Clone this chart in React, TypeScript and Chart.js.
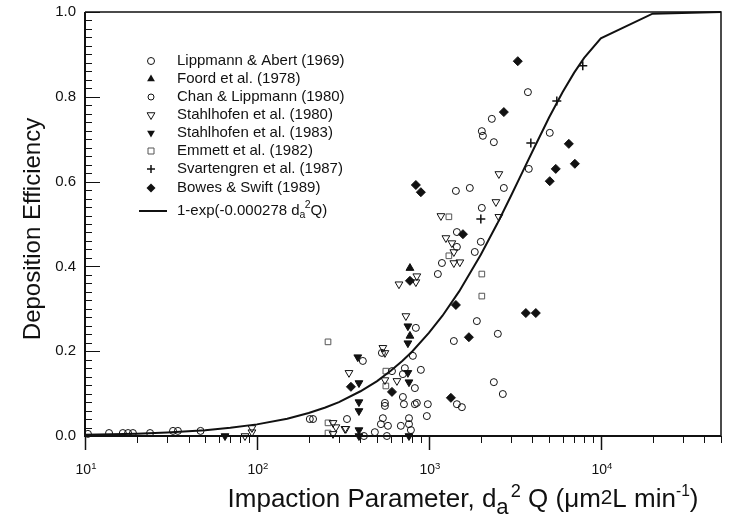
import React, { useEffect, useRef } from 'react';
import { Chart, registerables } from 'chart.js';
Chart.register(...registerables);

// ---- Data (impaction parameter, deposition efficiency) ----
const lippmannAbertX = [413, 533, 807, 3767, 2323, 2032, 2061, 2387, 5047, 3811, 1436, 1730, 2729, 2032, 1455, 1455, 2005, 1849, 1191, 1128, 840, 1901, 2518, 1397, 2387, 2692, 898, 610, 725, 706, 829, 706, 555, 555, 716, 829, 851, 986, 973, 1455, 1556, 540, 526, 578, 687, 766, 766, 786, 419, 485, 570];
const lippmannAbertY = [0.177, 0.196, 0.189, 0.811, 0.748, 0.719, 0.708, 0.693, 0.715, 0.630, 0.578, 0.585, 0.585, 0.538, 0.481, 0.446, 0.458, 0.434, 0.408, 0.382, 0.255, 0.271, 0.241, 0.224, 0.127, 0.099, 0.156, 0.153, 0.160, 0.146, 0.113, 0.092, 0.078, 0.071, 0.075, 0.075, 0.078, 0.075, 0.047, 0.075, 0.068, 0.042, 0.028, 0.024, 0.024, 0.042, 0.028, 0.014, 0.0, 0.009, 0.0];

const foordX = [776, 776];
const foordY = [0.396, 0.236];

const chanLippmannX = [10.4, 13.8, 16.6, 17.8, 19.0, 23.9, 32.5, 34.7, 47, 203, 212, 334];
const chanLippmannY = [0.005, 0.007, 0.007, 0.007, 0.007, 0.007, 0.012, 0.012, 0.012, 0.040, 0.040, 0.040];

const stahl1980X = [93.5, 93.5, 85.2, 277, 288, 329, 277, 343, 325, 540, 555, 555, 652, 735, 670, 851, 840, 1175, 1256, 1361, 1397, 1397, 1514, 2553, 2454, 2553];
const stahl1980Y = [0.019, 0.009, 0.0, 0.031, 0.021, 0.017, 0.005, 0.149, 0.017, 0.208, 0.196, 0.132, 0.130, 0.283, 0.358, 0.377, 0.363, 0.519, 0.467, 0.455, 0.434, 0.408, 0.410, 0.618, 0.552, 0.517];

const stahl1983X = [65.2, 386, 392, 392, 392, 392, 392, 755, 755, 755, 766, 766];
const stahl1983Y = [0.0, 0.186, 0.125, 0.080, 0.059, 0.014, 0.0, 0.219, 0.259, 0.149, 0.127, 0.0];

const emmettX = [259, 259, 259, 562, 562, 1307, 1307, 2032, 2032];
const emmettY = [0.222, 0.031, 0.007, 0.153, 0.118, 0.517, 0.425, 0.382, 0.330];

const svartengrenX = [7852, 5546, 3917, 2005];
const svartengrenY = [0.873, 0.790, 0.691, 0.512];

const bowesSwiftX = [3289, 2729, 6516, 7063, 5470, 5047, 840, 898, 1578, 776, 1436, 1709, 3664, 4188, 1343, 352, 610];
const bowesSwiftY = [0.884, 0.764, 0.689, 0.642, 0.630, 0.601, 0.592, 0.575, 0.476, 0.366, 0.309, 0.233, 0.290, 0.290, 0.090, 0.116, 0.104];

const curveX = [10, 20, 30, 50, 70, 100, 150, 200, 250, 300, 400, 500, 600, 700, 800, 1000, 1200, 1500, 2000, 2500, 3000, 3500, 4000, 5000, 6000, 7000, 8000, 10000, 20000, 50000];
const curveY = [0.0028, 0.0055, 0.0083, 0.0138, 0.0193, 0.0274, 0.0409, 0.0541, 0.0671, 0.080, 0.1055, 0.1295, 0.154, 0.177, 0.1994, 0.243, 0.2837, 0.341, 0.427, 0.501, 0.566, 0.6222, 0.671, 0.751, 0.8114, 0.857, 0.8918, 0.938, 0.996, 1.0];

const xTickExponents = [1, 2, 3, 4];
const yTickLabels = ['0.0', '0.2', '0.4', '0.6', '0.8', '1.0'];

const FONT = '"Liberation Sans", Arial, sans-serif';
const INK = '#111';

const pts = (xs: number[], ys: number[]) => xs.map((x, i) => ({ x, y: ys[i] }));

type Kind = 'circle' | 'circleSmall' | 'triUpFill' | 'triDownOpen' | 'triDownFill' | 'square' | 'plus' | 'diamond' | 'line';

const legendEntries: { label: string; kind: Kind }[] = [
  { label: 'Lippmann & Abert (1969)', kind: 'circle' },
  { label: 'Foord et al. (1978)', kind: 'triUpFill' },
  { label: 'Chan & Lippmann (1980)', kind: 'circleSmall' },
  { label: 'Stahlhofen et al. (1980)', kind: 'triDownOpen' },
  { label: 'Stahlhofen et al. (1983)', kind: 'triDownFill' },
  { label: 'Emmett et al. (1982)', kind: 'square' },
  { label: 'Svartengren et al. (1987)', kind: 'plus' },
  { label: 'Bowes & Swift (1989)', kind: 'diamond' },
  { label: '', kind: 'line' },
];

function drawMarker(ctx: CanvasRenderingContext2D, kind: Kind, x: number, y: number) {
  ctx.save();
  ctx.strokeStyle = INK;
  ctx.fillStyle = INK;
  ctx.lineWidth = 1;
  ctx.beginPath();
  switch (kind) {
    case 'circle':
      ctx.arc(x, y, 3.5, 0, Math.PI * 2);
      ctx.stroke();
      break;
    case 'circleSmall':
      ctx.arc(x, y, 3, 0, Math.PI * 2);
      ctx.stroke();
      break;
    case 'triUpFill': {
      const r = 4.5;
      ctx.moveTo(x, y - r);
      ctx.lineTo(x + r * 0.866, y + r / 2);
      ctx.lineTo(x - r * 0.866, y + r / 2);
      ctx.closePath();
      ctx.fill();
      break;
    }
    case 'triDownOpen':
    case 'triDownFill': {
      const r = 4.5;
      ctx.moveTo(x, y + r);
      ctx.lineTo(x + r * 0.866, y - r / 2);
      ctx.lineTo(x - r * 0.866, y - r / 2);
      ctx.closePath();
      if (kind === 'triDownFill') ctx.fill();
      else ctx.stroke();
      break;
    }
    case 'square':
      ctx.strokeStyle = '#555';
      ctx.rect(x - 3, y - 3, 6, 6);
      ctx.stroke();
      break;
    case 'plus':
      ctx.lineWidth = 1.5;
      ctx.moveTo(x - 4, y);
      ctx.lineTo(x + 4, y);
      ctx.moveTo(x, y - 4);
      ctx.lineTo(x, y + 4);
      ctx.stroke();
      break;
    case 'diamond':
      ctx.moveTo(x, y - 4.5);
      ctx.lineTo(x + 4.5, y);
      ctx.lineTo(x, y + 4.5);
      ctx.lineTo(x - 4.5, y);
      ctx.closePath();
      ctx.fill();
      break;
    case 'line':
      ctx.lineWidth = 2;
      ctx.moveTo(x - 12, y);
      ctx.lineTo(x + 16, y);
      ctx.stroke();
      break;
  }
  ctx.restore();
}

// text runs: [text, relative size, vertical shift as fraction of base size, gap before]
type Run = [string, number, number, number?];
function drawRuns(ctx: CanvasRenderingContext2D, runs: Run[], x: number, y: number, size: number, measureOnly = false): number {
  let cx = x;
  for (const [t, rel, shift, gap] of runs) {
    ctx.font = `${size * rel}px ${FONT}`;
    cx += (gap || 0) * size;
    const w = ctx.measureText(t).width;
    if (!measureOnly) ctx.fillText(t, cx, y + shift * size);
    cx += w;
  }
  return cx - x;
}

const axesPlugin = {
  id: 'customAxes',
  afterDraw(chart: any) {
    const ctx: CanvasRenderingContext2D = chart.ctx;
    const { left, right, top, bottom } = chart.chartArea;
    const xs = chart.scales.x;
    const ys = chart.scales.y;
    ctx.save();
    ctx.strokeStyle = INK;
    ctx.fillStyle = INK;

    // frame
    ctx.lineWidth = 1.5;
    ctx.beginPath();
    ctx.moveTo(left, top);
    ctx.lineTo(right, top);
    ctx.lineTo(right, bottom);
    ctx.stroke();
    ctx.lineWidth = 2;
    ctx.beginPath();
    ctx.moveTo(left, top);
    ctx.lineTo(left, bottom);
    ctx.lineTo(right, bottom);
    ctx.stroke();

    // y ticks (inside)
    ctx.lineWidth = 1;
    for (let i = 0; i <= 50; i++) {
      const v = i / 50;
      const py = Math.round(ys.getPixelForValue(v)) + 0.5;
      const len = i % 10 === 0 ? 15 : 7;
      ctx.beginPath();
      ctx.moveTo(left, py);
      ctx.lineTo(left + len, py);
      ctx.stroke();
    }
    // y labels
    ctx.font = `15px ${FONT}`;
    ctx.textAlign = 'right';
    ctx.textBaseline = 'middle';
    yTickLabels.forEach((lab, i) => {
      ctx.fillText(lab, left - 9, ys.getPixelForValue(i * 0.2));
    });

    // x ticks (outside)
    for (let e = 1; e <= 4; e++) {
      for (let m = 1; m <= 9; m++) {
        const v = m * Math.pow(10, e);
        if (v > 50000) break;
        const px = Math.round(xs.getPixelForValue(v)) + 0.5;
        const len = m === 1 ? 14 : 7;
        ctx.lineWidth = m === 1 ? 1.5 : 1;
        ctx.beginPath();
        ctx.moveTo(px, bottom);
        ctx.lineTo(px, bottom + len);
        ctx.stroke();
      }
    }
    // x labels
    ctx.textAlign = 'left';
    ctx.textBaseline = 'alphabetic';
    xTickExponents.forEach((e) => {
      const px = xs.getPixelForValue(Math.pow(10, e));
      const runs: Run[] = [['10', 1, 0], [String(e), 0.68, -0.38]];
      const w = drawRuns(ctx, runs, 0, 0, 14, true);
      drawRuns(ctx, runs, px - w / 2 + 1, 474, 14);
    });

    // y title
    ctx.save();
    ctx.translate(33, 229);
    ctx.rotate(-Math.PI / 2);
    ctx.font = `24px ${FONT}`;
    ctx.textAlign = 'center';
    ctx.textBaseline = 'middle';
    ctx.fillText('Deposition Efficiency', 0, 0);
    ctx.restore();

    // x title
    ctx.textAlign = 'left';
    ctx.textBaseline = 'alphabetic';
    const titleRuns: Run[] = [
      ['Impaction Parameter, d', 1, 0],
      ['a', 0.85, 0.28],
      ['2', 0.7, -0.4, 0.08],
      [' Q (\u03bcm', 1, 0],
      ['2', 0.8, -0.1],
      ['L min', 1, 0],
      ['-1', 0.6, -0.42],
      [')', 1, 0],
    ];
    const tw = drawRuns(ctx, titleRuns, 0, 0, 26, true);
    drawRuns(ctx, titleRuns, 463 - tw / 2, 507, 26);

    // legend
    const rows = [61, 79, 97, 115, 133, 151, 169, 188, 211];
    legendEntries.forEach((en, i) => {
      const y = rows[i];
      drawMarker(ctx, en.kind, 151, y);
      ctx.fillStyle = INK;
      ctx.textBaseline = 'middle';
      if (en.kind === 'line') {
        const runs: Run[] = [['1-exp(-0.000278 d', 1, 0], ['a', 0.7, 0.3], ['2', 0.7, -0.38, -0.05], ['Q)', 1, 0]];
        drawRuns(ctx, runs, 177, y, 15);
      } else {
        ctx.font = `15px ${FONT}`;
        ctx.fillText(en.label, 177, y);
      }
    });
    ctx.restore();
  },
};

const openStyle = (r: number) => ({
  pointRadius: r,
  pointHoverRadius: r,
  pointBorderWidth: 1,
  pointBorderColor: INK,
  pointBackgroundColor: 'rgba(0,0,0,0)',
  borderColor: INK,
  backgroundColor: 'rgba(0,0,0,0)',
  clip: false as any,
});
const filledStyle = (r: number) => ({
  pointRadius: r,
  pointHoverRadius: r,
  pointBorderWidth: 1,
  pointBorderColor: INK,
  pointBackgroundColor: INK,
  borderColor: INK,
  backgroundColor: INK,
  clip: false as any,
});

export default function App() {
  const ref = useRef<HTMLCanvasElement>(null);
  useEffect(() => {
    if (!ref.current) return;
    const chart = new Chart(ref.current, {
      type: 'scatter',
      data: {
        datasets: [
          { label: 'curve', data: pts(curveX, curveY), showLine: true, borderColor: INK, borderWidth: 2, pointRadius: 0, tension: 0, clip: false as any },
          { label: 'Lippmann & Abert (1969)', data: pts(lippmannAbertX, lippmannAbertY), pointStyle: 'circle', ...openStyle(3.5) },
          { label: 'Foord et al. (1978)', data: pts(foordX, foordY), pointStyle: 'triangle', ...filledStyle(4.5) },
          { label: 'Chan & Lippmann (1980)', data: pts(chanLippmannX, chanLippmannY), pointStyle: 'circle', ...openStyle(3.5) },
          { label: 'Stahlhofen et al. (1980)', data: pts(stahl1980X, stahl1980Y), pointStyle: 'triangle', pointRotation: 180, ...openStyle(4.5) },
          { label: 'Stahlhofen et al. (1983)', data: pts(stahl1983X, stahl1983Y), pointStyle: 'triangle', pointRotation: 180, ...filledStyle(4.5) },
          { label: 'Emmett et al. (1982)', data: pts(emmettX, emmettY), pointStyle: 'rect', ...openStyle(4), pointBorderColor: '#555' },
          { label: 'Svartengren et al. (1987)', data: pts(svartengrenX, svartengrenY), pointStyle: 'cross', ...openStyle(4.5), pointBorderWidth: 1.5 },
          { label: 'Bowes & Swift (1989)', data: pts(bowesSwiftX, bowesSwiftY), pointStyle: 'rectRot', ...filledStyle(4.5) },
        ],
      },
      options: {
        animation: false,
        responsive: true,
        maintainAspectRatio: false,
        events: [],
        layout: { padding: { left: 85, right: 14, top: 12, bottom: 89 } },
        plugins: { legend: { display: false }, tooltip: { enabled: false } },
        scales: {
          x: { type: 'logarithmic', min: 10, max: 50000, display: false },
          y: { type: 'linear', min: 0, max: 1, display: false },
        },
      },
      plugins: [axesPlugin],
    });
    return () => chart.destroy();
  }, []);
  return (
    <div style={{ position: 'absolute', left: 0, top: 0, width: 735, height: 525, background: '#fff' }}>
      <canvas ref={ref} />
    </div>
  );
}
